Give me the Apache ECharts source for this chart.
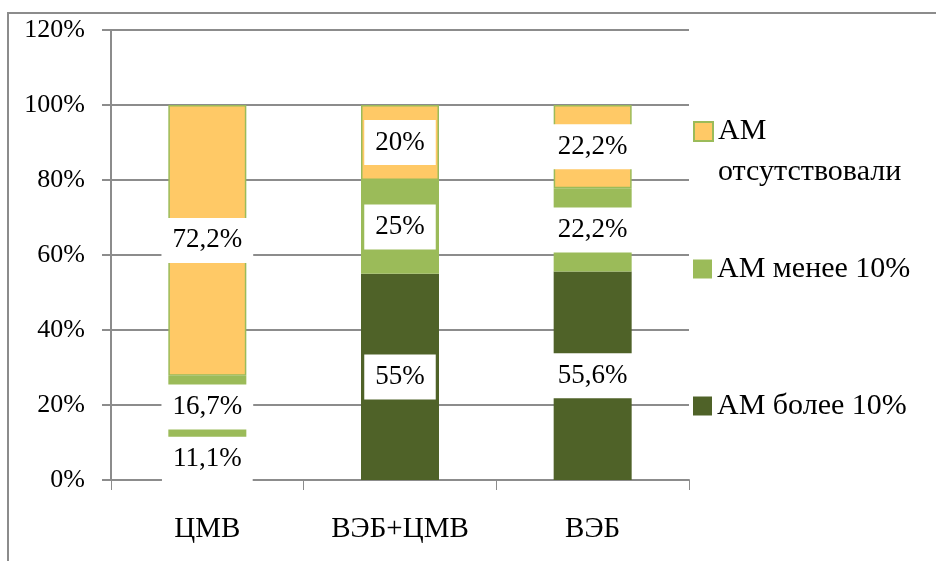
<!DOCTYPE html>
<html><head><meta charset="utf-8">
<script src="https://cdn.jsdelivr.net/npm/echarts@6/dist/echarts.min.js"></script>
<style>html,body{margin:0;padding:0;background:#fff}#c{width:936px;height:561px}</style>
</head><body><div id="c"></div>
<script>
const categories = ['ЦМВ', 'ВЭБ+ЦМВ', 'ВЭБ'];
const seriesNames = ['АМ более 10%', 'АМ менее 10%', 'АМ отсутствовали'];
const moreThan10 = [11.1, 55, 55.6];
const lessThan10 = [16.7, 25, 22.2];
const absent = [72.2, 20, 22.2];
const yTicks = [0, 20, 40, 60, 80, 100, 120];

const FONT = 'Liberation Serif';
const GRID = '#8c8c8c';
const colors = ['#4F6228', '#9BBB59', '#FFC966'];

const label = {
  show: true, position: 'inside', color: '#000', fontFamily: FONT, fontSize: 27,
  backgroundColor: '#fff', padding: [9, 11],
  formatter: p => String(p.value).replace('.', ',') + '%'
};

function mk(name, data, color, border) {
  return {
    name, type: 'bar', stack: 'a', data, barWidth: 78,
    itemStyle: { color, borderColor: border || color, borderWidth: border ? 1.5 : 0 },
    label, emphasis: { disabled: true }
  };
}

const legendText = { color: '#000', fontFamily: FONT, fontSize: 30 };
const chart = echarts.init(document.getElementById('c'));
chart.setOption({
  animation: false,
  backgroundColor: '#fff',
  textStyle: { fontFamily: FONT },
  grid: { left: 111, right: 247, top: 30, bottom: 81, containLabel: false },
  graphic: [{ type: 'rect', shape: { x: 8, y: 13, width: 960, height: 600 }, style: { fill: 'none', stroke: GRID, lineWidth: 2 }, silent: true }],
  legend: [
    { data: [seriesNames[2]], orient: 'vertical', left: 693, top: 70, padding: 0, itemWidth: 19, itemHeight: 19, itemGap: 0, icon: 'rect',
      formatter: () => ' \nАМ\nотсутствовали', textStyle: Object.assign({ lineHeight: 41 }, legendText) },
    { data: [seriesNames[1]], orient: 'vertical', left: 693, top: 253, padding: 0, itemWidth: 19, itemHeight: 19, icon: 'rect', textStyle: Object.assign({ lineHeight: 32 }, legendText) },
    { data: [seriesNames[0]], orient: 'vertical', left: 693, top: 390, padding: 0, itemWidth: 19, itemHeight: 19, icon: 'rect', textStyle: Object.assign({ lineHeight: 32 }, legendText) }
  ],
  xAxis: {
    type: 'category', data: categories,
    axisLine: { lineStyle: { color: GRID, width: 2 } },
    axisTick: { show: true, length: 10, lineStyle: { color: GRID, width: 1 } },
    axisLabel: { color: '#000', fontFamily: FONT, fontSize: 29, margin: 35 }
  },
  yAxis: {
    type: 'value', min: yTicks[0], max: yTicks[yTicks.length - 1], interval: yTicks[1] - yTicks[0],
    axisLine: { show: true, lineStyle: { color: GRID, width: 2 } },
    axisTick: { show: true, length: 9, lineStyle: { color: GRID, width: 2 } },
    splitLine: { lineStyle: { color: GRID, width: 2 } },
    axisLabel: { color: '#000', fontFamily: FONT, fontSize: 26, margin: 26, formatter: '{value}%' }
  },
  series: [
    mk(seriesNames[0], moreThan10, colors[0]),
    mk(seriesNames[1], lessThan10, colors[1]),
    mk(seriesNames[2], absent, colors[2], '#9BBB59')
  ]
});
</script></body></html>
